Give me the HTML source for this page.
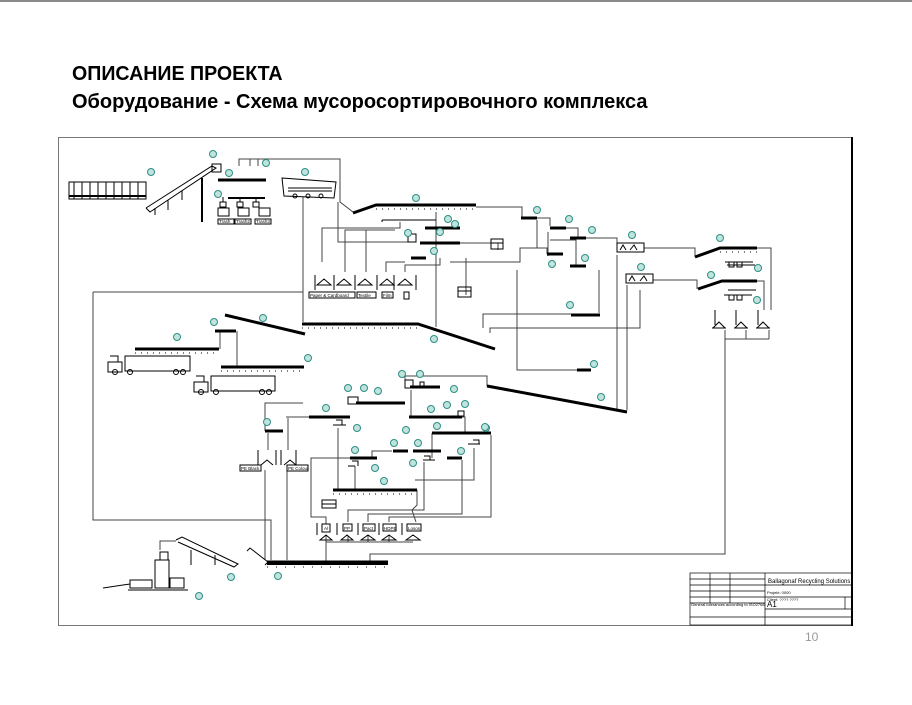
<!DOCTYPE html>
<html><head><meta charset="utf-8"><style>
html,body{margin:0;padding:0;background:#fff;}
body{width:912px;height:705px;position:relative;overflow:hidden;font-family:"Liberation Sans",sans-serif;}
.t{position:absolute;left:72px;font-weight:bold;color:#000;white-space:nowrap;transform-origin:0 0;}
</style></head><body>
<div style="position:absolute;left:0;top:0;width:912px;height:2px;background:#8a8a8a"></div>
<div class="t" style="top:63px;font-size:20px;transform:scaleX(0.98)">ОПИСАНИЕ ПРОЕКТА</div>
<div class="t" style="top:91px;font-size:20px;transform:scaleX(1.0)">Оборудование - Схема мусоросортировочного комплекса</div>
<svg width="912" height="705" style="position:absolute;left:0;top:0" xmlns="http://www.w3.org/2000/svg">
<rect x="58.5" y="137.5" width="794" height="488" fill="none" stroke="#777" stroke-width="1"/>
<line x1="852" y1="137" x2="852" y2="626" stroke="#000" stroke-width="2"/>
<g fill="none" stroke="#444" stroke-width="1">
<polyline points="239,166 239,159 340,159 340,202 353,212"/>
<line x1="250" y1="159" x2="250" y2="166"/><line x1="258" y1="159" x2="258" y2="166"/>
<line x1="303" y1="197" x2="303" y2="322"/>
<polyline points="93,292 303,292"/>
<polyline points="93,292 93,520 271,520 271,560"/>
<polyline points="322,262 322,228 400,228 400,222"/>
<polyline points="345,272 345,230 395,230"/>
<polyline points="366,272 366,230"/>
<polyline points="386,272 386,262 405,262"/>
<polyline points="405,272 405,265 440,265 440,258"/>
<polyline points="338,202 338,242 408,242"/>
<polyline points="466,258 466,265 466,295"/>
<polyline points="441,243 498,243 498,250"/>
<polyline points="450,262 520,262 520,248 538,248"/>
<polyline points="436,212 436,327"/>
<polyline points="476,207 522,207 522,217"/>
<polyline points="537,220 537,248 547,248 547,254"/>
<polyline points="537,218 550,218 550,226"/>
<polyline points="566,228 578,228 578,238"/>
<polyline points="586,238 617,238 617,246"/>
<polyline points="548,232 548,256"/>
<polyline points="550,240 576,240 576,266"/>
<polyline points="644,248 695,248 695,257"/>
<polyline points="653,280 697,280 697,289"/>
<polyline points="757,248 771,248 771,310"/>
<polyline points="757,281 764,281 764,310"/>
<polyline points="725,339 769,339"/><line x1="746" y1="330" x2="746" y2="339"/><line x1="769" y1="330" x2="769" y2="339"/>
<polyline points="725,330 725,554 370,554 370,562"/>
<polyline points="483,328 483,314 600,314"/>
<polyline points="490,333 490,328 640,328 640,290"/>
<polyline points="517,270 517,370 588,370"/>
<polyline points="617,255 617,410"/><polyline points="627,285 627,410"/>
<polyline points="599,270 599,313"/>
<polyline points="435,376 487,376 487,386"/>
<polyline points="405,380 405,376 485,376"/>
<polyline points="237,331 237,367"/>
<polyline points="220,331 220,349"/>
<polyline points="303,403 265,403 265,431"/>
<polyline points="286,417 309,417"/>
<polyline points="288,418 288,450"/>
<polyline points="268,433 268,450"/>
<polyline points="265,470 265,560"/><polyline points="287,470 287,560"/>
<polyline points="338,428 338,489"/>
<polyline points="355,466 355,489"/>
<polyline points="411,390 411,417"/>
<polyline points="462,417 465,417 465,433"/>
<polyline points="432,433 432,458"/>
<polyline points="392,451 372,451 372,458"/>
<polyline points="350,458 311,458 311,517 326,517 326,524"/>
<polyline points="424,462 424,510 348,510 348,522"/>
<polyline points="462,460 462,514 368,514 368,522"/>
<polyline points="491,435 491,517 389,517 389,522"/>
<polyline points="474,448 474,480 415,480"/>
<polyline points="417,490 417,505 412,510 416,522"/>
<polyline points="326,542 413,542"/><line x1="326" y1="536" x2="326" y2="562"/>
<line x1="348" y1="536" x2="348" y2="542"/><line x1="368" y1="536" x2="368" y2="542"/><line x1="389" y1="536" x2="389" y2="542"/>
<polyline points="160,550 160,541 176,541"/>
</g>
<g fill="none" stroke="#000" stroke-width="3">
<line x1="218" y1="180" x2="266" y2="180"/>
<line x1="228" y1="198" x2="265" y2="198" stroke-width="2"/>
<polyline points="353,213 376,205 476,205"/>
<polyline points="302,324 418,324 495,349"/>
<polyline points="225,315 305,334"/>
<line x1="215" y1="331" x2="236" y2="331"/>
<line x1="135" y1="349" x2="219" y2="349"/>
<line x1="221" y1="367" x2="304" y2="367"/>
<line x1="521" y1="218" x2="537" y2="218"/>
<line x1="550" y1="228" x2="566" y2="228"/>
<line x1="570" y1="238" x2="586" y2="238"/>
<line x1="547" y1="254" x2="563" y2="254"/>
<line x1="570" y1="266" x2="586" y2="266"/>
<line x1="420" y1="243" x2="460" y2="243"/>
<line x1="425" y1="228" x2="460" y2="228"/>
<line x1="411" y1="258" x2="426" y2="258"/>
<polyline points="695,257 720,248 757,248"/>
<polyline points="698,289 722,281 757,281"/>
<line x1="571" y1="315" x2="600" y2="315"/>
<line x1="577" y1="370" x2="591" y2="370"/>
<polyline points="487,386 627,412"/>
<line x1="309" y1="417" x2="350" y2="417"/>
<line x1="356" y1="403" x2="405" y2="403"/>
<line x1="410" y1="387" x2="440" y2="387"/>
<line x1="409" y1="417" x2="462" y2="417"/>
<line x1="265" y1="431" x2="283" y2="431"/>
<line x1="432" y1="433" x2="491" y2="433"/>
<line x1="393" y1="451" x2="408" y2="451"/>
<line x1="413" y1="451" x2="441" y2="451"/>
<line x1="350" y1="458" x2="377" y2="458"/>
<line x1="447" y1="458" x2="462" y2="458"/>
<line x1="333" y1="490" x2="417" y2="490"/>
<line x1="267" y1="563" x2="388" y2="563" stroke-width="4"/>
</g>
<g fill="none" stroke="#000" stroke-width="1">
<line x1="382" y1="220" x2="436" y2="220"/>
<line x1="382" y1="220" x2="382" y2="225" stroke-dasharray="2 6"/>
<polyline points="146,208 212,166 216,168 150,212 146,208"/>
<line x1="155" y1="208" x2="155" y2="215"/><line x1="168" y1="200" x2="168" y2="210"/><line x1="182" y1="191" x2="182" y2="200"/><line x1="202" y1="178" x2="202" y2="222" stroke-width="2"/>
<rect x="69" y="182" width="77" height="17"/>
<path d="M74 182v17M82 182v17M90 182v17M98 182v17M106 182v17M114 182v17M122 182v17M130 182v17M138 182v17" />
<line x1="69" y1="196" x2="146" y2="196" stroke-width="2"/>
<rect x="212" y="164" width="9" height="8"/>
<path d="M282 178 L336 182 L334 198 L284 196 Z"/>
<path d="M288 188h44M288 191h44"/>
<circle cx="295" cy="196" r="2"/><circle cx="308" cy="196" r="2"/><circle cx="321" cy="196" r="2"/>
<line x1="223" y1="197" x2="223" y2="202"/><line x1="240" y1="197" x2="240" y2="202"/><line x1="256" y1="197" x2="256" y2="202"/>
<rect x="220" y="202" width="6" height="5"/><rect x="237" y="202" width="6" height="5"/><rect x="253" y="202" width="6" height="5"/>
<rect x="218" y="208" width="11" height="8"/><rect x="238" y="208" width="11" height="8"/><rect x="259" y="208" width="11" height="8"/>
<rect x="218" y="219" width="16" height="5"/><rect x="235" y="219" width="16" height="5"/><rect x="255" y="219" width="16" height="5"/>
<path d="M315 275v15M334 275v15M355 275v15M377 275v15M394 275v15M416 275v15"/>
<path d="M317 285l7-6 7 6zM337 285l7-6 7 6zM358 285l7-6 7 6zM380 285l7-6 7 6zM398 285l7-6 7 6z"/>
<rect x="309" y="292" width="46" height="6"/><rect x="357" y="292" width="19" height="6"/><rect x="382" y="292" width="11" height="6"/><rect x="404" y="292" width="5" height="7"/>
<rect x="458" y="287" width="13" height="10"/><line x1="458" y1="291" x2="471" y2="291"/>
<rect x="491" y="239" width="12" height="10"/><line x1="491" y1="243" x2="503" y2="243"/>
<rect x="408" y="234" width="8" height="8"/>
<rect x="617" y="243" width="27" height="9"/><rect x="626" y="274" width="27" height="9"/>
<path d="M620 250l3-5 3 5M630 250l4-5 3 5M629 281l3-5 3 5M640 281l4-5 3 5"/>
<rect x="125" y="356" width="65" height="15"/><path d="M108 362h14v10h-14z M110 356h8v6"/>
<circle cx="115" cy="372" r="2.5"/><circle cx="130" cy="372" r="2.5"/><circle cx="176" cy="372" r="2.5"/><circle cx="183" cy="372" r="2.5"/>
<rect x="211" y="376" width="64" height="15"/><path d="M194 382h14v10h-14z M196 376h8v6"/>
<circle cx="201" cy="392" r="2.5"/><circle cx="216" cy="392" r="2.5"/><circle cx="262" cy="392" r="2.5"/><circle cx="269" cy="392" r="2.5"/>
<path d="M715 310v15M736 310v15M758 310v15M712 328h14 M734 328h14 M756 328h14 M713 328l6-6 6 6 M735 328l6-6 6 6 M757 328l6-6 6 6"/>
<path d="M725 262h28M727 265h28M724 295h28M728 290h28"/>
<rect x="729" y="262" width="5" height="5"/><rect x="737" y="262" width="5" height="5"/>
<rect x="729" y="295" width="5" height="5"/><rect x="737" y="295" width="5" height="5"/>
<rect x="348" y="397" width="10" height="7"/><rect x="405" y="380" width="8" height="8"/><rect x="420" y="382" width="4" height="4"/>
<rect x="458" y="411" width="6" height="5"/>
<path d="M333 425h13M336 420h6v5"/><path d="M355 466h-7M352 461h6v5"/><path d="M423 460h12M424 456h6v4"/><path d="M468 444h12M473 440h6v4"/>
<path d="M258 450v15M276 450v15M281 450v15M296 450v15 M261 465l6-5 6 5 M284 465l6-5 6 5"/>
<rect x="240" y="465" width="21" height="6"/><rect x="287" y="465" width="21" height="6"/>
<rect x="322" y="500" width="14" height="8"/><line x1="322" y1="504" x2="336" y2="504"/>
<path d="M317 523v12M337 523v12M358 523v12M379 523v12M402 523v12"/>
<rect x="322" y="524" width="8" height="8"/><rect x="343" y="524" width="9" height="7"/><rect x="363" y="524" width="12" height="7"/><rect x="383" y="524" width="13" height="7"/><rect x="407" y="524" width="14" height="7"/>
<path d="M320 540l6-5 6 5zM341 540l6-5 6 5zM361 540l7-5 7 5zM382 540l7-5 7 5zM406 540l7-5 7 5z"/>
<polyline points="103,588 130,584"/>
<rect x="130" y="580" width="22" height="8"/><rect x="155" y="560" width="14" height="28"/><rect x="160" y="552" width="8" height="8"/>
<rect x="170" y="578" width="14" height="10"/><path d="M128 590h60"/>
<polyline points="176,540 182,537 238,564 234,567 178,542"/>
<line x1="191" y1="550" x2="191" y2="565"/><line x1="215" y1="555" x2="215" y2="565"/>
<polyline points="247,551 250,548 268,562 265,565"/>
<line x1="267" y1="561" x2="388" y2="561"/>
</g>
<g stroke="#000" stroke-width="1" fill="none" stroke-dasharray="1 5">
<line x1="376" y1="209" x2="476" y2="209"/>
<line x1="302" y1="328" x2="418" y2="328"/>
<line x1="221" y1="371" x2="304" y2="371"/>
<line x1="135" y1="353" x2="219" y2="353"/>
<line x1="720" y1="252" x2="757" y2="252"/>
<line x1="333" y1="494" x2="417" y2="494"/>
<line x1="267" y1="567" x2="388" y2="567" stroke-dasharray="1 8"/>
</g>
<g font-family="Liberation Sans" font-size="4.5" fill="#000">
<text x="219" y="223">Trash</text><text x="236" y="223">Trash2</text><text x="256" y="223">Trash3</text>
<text x="310" y="297">Paper &amp; Cardboard</text><text x="358" y="297">Textile</text><text x="383" y="297">Film</text>
<text x="241" y="470">PE Black</text><text x="288" y="470">PE Colour</text>
<text x="324" y="530">Al</text><text x="344" y="530">PP</text><text x="364" y="530">Pact</text><text x="384" y="530">HDPE</text><text x="408" y="530">Losos</text>
</g>
<g fill="#bfe3dd" stroke="#2e8f84" stroke-width="1">
<circle cx="151" cy="172" r="3.5"/><circle cx="213" cy="154" r="3.5"/><circle cx="229" cy="173" r="3.5"/><circle cx="266" cy="163" r="3.5"/><circle cx="218" cy="194" r="3.5"/><circle cx="305" cy="172" r="3.5"/>
<circle cx="416" cy="198" r="3.5"/><circle cx="448" cy="219" r="3.5"/><circle cx="455" cy="224" r="3.5"/><circle cx="408" cy="233" r="3.5"/><circle cx="440" cy="232" r="3.5"/><circle cx="434" cy="251" r="3.5"/>
<circle cx="263" cy="318" r="3.5"/><circle cx="214" cy="322" r="3.5"/><circle cx="177" cy="337" r="3.5"/><circle cx="308" cy="358" r="3.5"/><circle cx="434" cy="339" r="3.5"/>
<circle cx="537" cy="210" r="3.5"/><circle cx="569" cy="219" r="3.5"/><circle cx="592" cy="230" r="3.5"/><circle cx="552" cy="264" r="3.5"/><circle cx="585" cy="258" r="3.5"/>
<circle cx="632" cy="235" r="3.5"/><circle cx="641" cy="267" r="3.5"/><circle cx="720" cy="238" r="3.5"/><circle cx="711" cy="275" r="3.5"/><circle cx="758" cy="268" r="3.5"/><circle cx="757" cy="300" r="3.5"/>
<circle cx="570" cy="305" r="3.5"/><circle cx="594" cy="364" r="3.5"/><circle cx="601" cy="397" r="3.5"/><circle cx="486" cy="428" r="3.5"/>
<circle cx="402" cy="374" r="3.5"/><circle cx="420" cy="374" r="3.5"/><circle cx="454" cy="389" r="3.5"/>
<circle cx="348" cy="388" r="3.5"/><circle cx="364" cy="388" r="3.5"/><circle cx="378" cy="391" r="3.5"/><circle cx="326" cy="408" r="3.5"/>
<circle cx="431" cy="409" r="3.5"/><circle cx="447" cy="405" r="3.5"/><circle cx="465" cy="404" r="3.5"/><circle cx="437" cy="426" r="3.5"/><circle cx="485" cy="427" r="3.5"/>
<circle cx="267" cy="422" r="3.5"/><circle cx="357" cy="428" r="3.5"/><circle cx="406" cy="430" r="3.5"/><circle cx="394" cy="443" r="3.5"/><circle cx="418" cy="443" r="3.5"/>
<circle cx="355" cy="450" r="3.5"/><circle cx="375" cy="468" r="3.5"/><circle cx="461" cy="451" r="3.5"/><circle cx="384" cy="481" r="3.5"/><circle cx="413" cy="463" r="3.5"/>
<circle cx="231" cy="577" r="3.5"/><circle cx="278" cy="576" r="3.5"/><circle cx="199" cy="596" r="3.5"/>
</g>
<g fill="none" stroke="#000" stroke-width="0.7">
<rect x="690" y="573" width="162" height="52"/>
<path d="M690 579h75M690 585h162M690 591h75M690 597h162M690 603h75M765 609h87M765 617h87M690 617h75M710 573v30M730 573v30M765 573v52M845 597v12"/>
</g>
<g font-family="Liberation Sans" font-size="4" fill="#000">
<text x="768" y="583" font-size="6">Ballagonaf Recycling Solutions</text>
<text x="767" y="594">Projekt: 0000</text><text x="767" y="601">Client: ???? ????</text>
<text x="767" y="607" font-size="8">A1</text>
<text x="691" y="606">General tolerances according to ISO2768</text>
</g>
<text x="805" y="641" font-family="Liberation Sans" font-size="12" fill="#999">10</text>
</svg>
</body></html>
